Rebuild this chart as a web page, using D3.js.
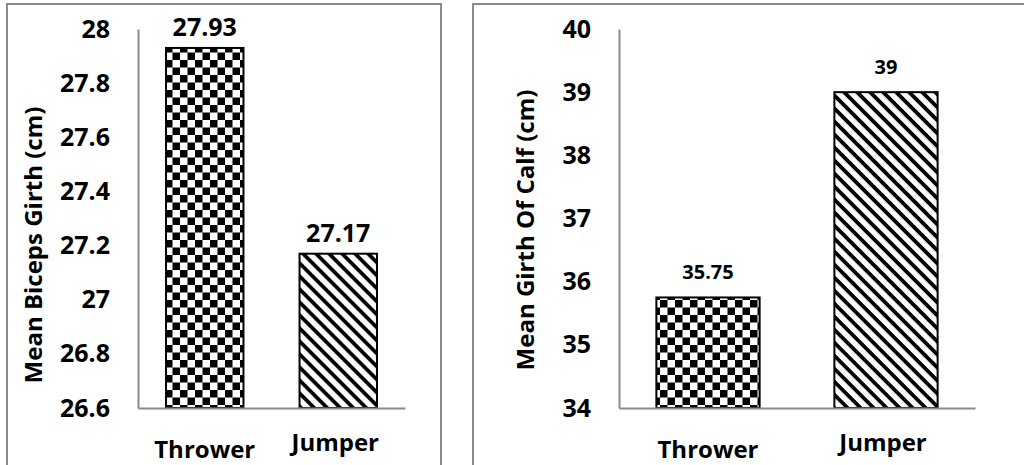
<!DOCTYPE html>
<html>
<head>
<meta charset="utf-8">
<script src="https://cdn.jsdelivr.net/npm/d3@7"></script>
<style>
  html, body { margin: 0; padding: 0; background: #ffffff; }
  svg { display: block; }
  text { font-family: "Open Sans", "Liberation Sans", sans-serif; font-weight: 700; fill: #000; }
</style>
</head>
<body>
<svg id="chart" width="1024" height="465"></svg>
<script>
// Group names and mean girths
const categories = ["Thrower", "Jumper"];
const bicepsValues = [27.93, 27.17];
const calfValues = [35.75, 39];
const bicepsTicks = [26.6, 26.8, 27, 27.2, 27.4, 27.6, 27.8, 28];
const calfTicks = [34, 35, 36, 37, 38, 39, 40];
const bicepsTitle = "Mean Biceps Girth (cm)";
const calfTitle = "Mean Girth Of Calf (cm)";

const svg = d3.select("#chart");
const grey = "#8a8a8a";

// Fill patterns: checkerboard for throwers, diagonal hatching for jumpers
const defs = svg.append("defs");
const checker = defs.append("pattern")
  .attr("id", "checker").attr("patternUnits", "userSpaceOnUse")
  .attr("width", 15).attr("height", 15);
checker.append("rect").attr("width", 15).attr("height", 15).attr("fill", "#fff");
checker.append("rect").attr("x", 0).attr("y", 0).attr("width", 7.5).attr("height", 7.5).attr("fill", "#000");
checker.append("rect").attr("x", 7.5).attr("y", 7.5).attr("width", 7.5).attr("height", 7.5).attr("fill", "#000");

const hatch = defs.append("pattern")
  .attr("id", "hatch").attr("patternUnits", "userSpaceOnUse")
  .attr("width", 10).attr("height", 9.2)
  .attr("patternTransform", "rotate(45)");
hatch.append("rect").attr("width", 10).attr("height", 9.2).attr("fill", "#fff");
hatch.append("rect").attr("width", 10).attr("height", 3.8).attr("fill", "#000");

const fills = { Thrower: "url(#checker)", Jumper: "url(#hatch)" };

function panel(cfg) {
  // outer frame
  svg.append("rect")
    .attr("x", cfg.frame[0]).attr("y", cfg.frame[1])
    .attr("width", cfg.frame[2]).attr("height", cfg.frame[3])
    .attr("fill", "none").attr("stroke", grey).attr("stroke-width", 2);

  const x = d3.scaleBand().domain(categories)
    .range([cfg.left, cfg.right]).paddingInner(0.42).paddingOuter(0.21);
  const y = d3.scaleLinear().domain(cfg.domain).range([cfg.bottom, cfg.top]);

  // y axis
  const ya = svg.append("g").attr("transform", `translate(${cfg.left},0)`)
    .call(d3.axisLeft(y).tickValues(cfg.ticks).tickSize(0).tickSizeOuter(0).tickPadding(28)
      .tickFormat(d3.format("~g")));
  ya.select(".domain").attr("stroke", grey).attr("stroke-width", 2);
  ya.attr("font-family", null).attr("font-size", null);
  ya.selectAll("text").attr("font-size", 25);

  // bars
  svg.append("g").selectAll("rect").data(cfg.values).join("rect")
    .attr("x", (d, i) => x(categories[i]))
    .attr("y", d => y(d))
    .attr("width", x.bandwidth())
    .attr("height", d => cfg.bottom - y(d))
    .attr("fill", (d, i) => fills[categories[i]])
    .attr("stroke", "#000").attr("stroke-width", 2);

  // x axis
  const xa = svg.append("g").attr("transform", `translate(0,${cfg.bottom})`)
    .call(d3.axisBottom(x).tickSize(0).tickSizeOuter(0).tickPadding(0));
  xa.select(".domain").attr("stroke", grey).attr("stroke-width", 2);
  xa.attr("font-family", null).attr("font-size", null);
  xa.selectAll("text")
    .attr("font-size", 24)
    .attr("dy", null)
    .attr("y", d => d === "Thrower" ? 50 : 43)
    .attr("dx", d => d === "Jumper" ? -3 : 0);

  // value labels
  svg.append("g").selectAll("text").data(cfg.values).join("text")
    .attr("x", (d, i) => x(categories[i]) + x.bandwidth() / 2)
    .attr("y", d => y(d) - cfg.labelGap)
    .attr("text-anchor", "middle")
    .attr("font-size", cfg.labelSize)
    .text(d => d);

  // axis title
  svg.append("text")
    .attr("transform", `translate(${cfg.titleX},${cfg.titleY}) rotate(-90)`)
    .attr("text-anchor", "middle")
    .attr("font-size", 24)
    .text(cfg.title);
}

panel({
  frame: [7, 4, 434, 480],
  left: 138, right: 405, top: 29, bottom: 408,
  domain: [26.6, 28], ticks: bicepsTicks, values: bicepsValues,
  labelSize: 25, labelGap: 12,
  title: bicepsTitle, titleX: 42, titleY: 245
});

panel({
  frame: [473, 4, 570, 480],
  left: 619, right: 975, top: 29, bottom: 408,
  domain: [34, 40], ticks: calfTicks, values: calfValues,
  labelSize: 20, labelGap: 18,
  title: calfTitle, titleX: 534, titleY: 230
});
</script>
</body>
</html>
